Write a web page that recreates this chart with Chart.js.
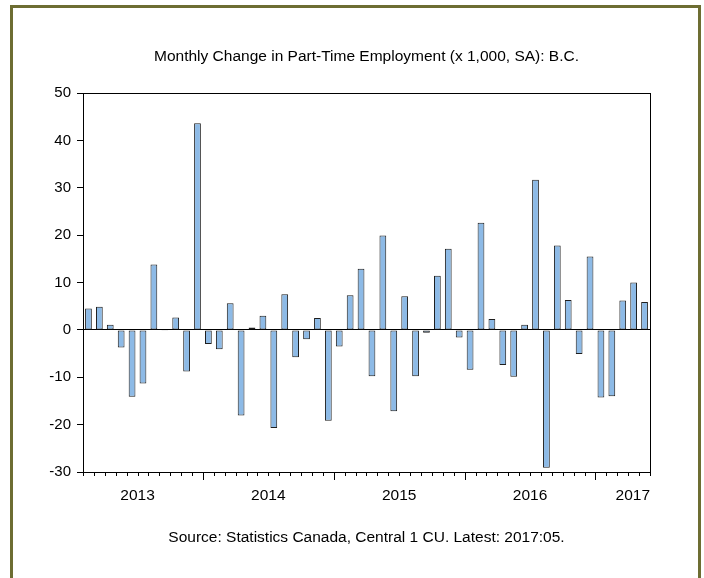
<!DOCTYPE html>
<html>
<head>
<meta charset="utf-8">
<script src="https://cdn.jsdelivr.net/npm/chart.js@4.4.1/dist/chart.umd.min.js"></script>
<style>
  html, body { margin: 0; padding: 0; background: #fff; }
  #wrap { position: relative; width: 704px; height: 578px; overflow: hidden; }
  #frame { position: absolute; left: 10px; top: 5px; width: 685px; height: 600px; border: 3px solid #6d6d32; }
  canvas { position: absolute; left: 0; top: 0; }
</style>
</head>
<body>
<div id="wrap">
  <div id="frame"></div>
  <canvas id="chart" width="704" height="578"></canvas>
</div>
<script>
const months = [
  '2013:02', '2013:03', '2013:04', '2013:05', '2013:06', '2013:07', '2013:08', '2013:09', '2013:10', '2013:11', '2013:12',
  '2014:01', '2014:02', '2014:03', '2014:04', '2014:05', '2014:06', '2014:07', '2014:08', '2014:09', '2014:10', '2014:11', '2014:12',
  '2015:01', '2015:02', '2015:03', '2015:04', '2015:05', '2015:06', '2015:07', '2015:08', '2015:09', '2015:10', '2015:11', '2015:12',
  '2016:01', '2016:02', '2016:03', '2016:04', '2016:05', '2016:06', '2016:07', '2016:08', '2016:09', '2016:10', '2016:11', '2016:12',
  '2017:01', '2017:02', '2017:03', '2017:04', '2017:05'
];
const partTimeChange = [
  4.5, 4.9, 1.1, -3.7, -14.1, -11.3, 13.8, -0.2, 2.6, -8.8, 43.6,
  -3.0, -4.1, 5.6, -18.1, 0.5, 3.0, -20.7, 7.5, -5.8, -2.0, 2.5, -19.2,
  -3.5, 7.3, 12.9, -9.8, 19.9, -17.2, 7.1, -9.8, -0.6, 11.4, 17.1, -1.6,
  -8.4, 22.6, 2.3, -7.4, -9.9, 1.1, 31.7, -29.1, 17.8, 6.3, -5.1, 15.5,
  -14.3, -14.0, 6.2, 10.0, 5.9
];
const years = ['2013', '2014', '2015', '2016', '2017'];
const yTicks = [-30, -20, -10, 0, 10, 20, 30, 40, 50];

const FONT = "'Liberation Sans', Arial, sans-serif";

// box round the plot, monthly ticks and year labels under it
const timeAxis = {
  id: 'timeAxis',
  afterDraw(chart) {
    const { ctx, chartArea: a, scales: { x } } = chart;
    const cell = x.getPixelForValue(1) - x.getPixelForValue(0);
    ctx.save();
    ctx.strokeStyle = '#000';
    ctx.lineWidth = 1;
    ctx.strokeRect(Math.round(a.left) + 0.5, Math.round(a.top) + 0.5,
      Math.round(a.right - a.left), Math.round(a.bottom - a.top));

    ctx.beginPath();
    for (let i = 0; i <= months.length; i++) {
      const px = Math.round(x.getPixelForValue(i) - cell / 2) + 0.5;
      const isYear = i < months.length && months[i].endsWith(':01');
      ctx.moveTo(px, Math.round(a.bottom));
      ctx.lineTo(px, Math.round(a.bottom) + (isYear ? 8 : 4));
    }
    ctx.stroke();

    ctx.fillStyle = '#000';
    ctx.font = '15.5px ' + FONT;
    ctx.textAlign = 'center';
    ctx.textBaseline = 'middle';
    years.forEach(yr => {
      const first = months.findIndex(m => m.startsWith(yr));
      const monthNo = parseInt(months[first].slice(5), 10);
      // centre of the whole calendar year, kept inside the plot
      let cx = x.getPixelForValue(first) + (6.5 - monthNo) * cell;
      const half = ctx.measureText(yr).width / 2;
      cx = Math.max(a.left + half, Math.min(a.right - half, cx));
      ctx.fillText(yr, cx, a.bottom + 23.5);
    });
    ctx.restore();
  }
};

new Chart(document.getElementById('chart').getContext('2d'), {
  type: 'bar',
  data: {
    labels: months,
    datasets: [{
      data: partTimeChange,
      backgroundColor: '#8dbae6',
      borderColor: '#1e1e1e',
      borderWidth: 1,
      borderSkipped: false,
      barPercentage: 0.62,
      categoryPercentage: 1
    }]
  },
  options: {
    responsive: false,
    animation: false,
    layout: { padding: { left: 0, right: 54, top: 0, bottom: 0 } },
    plugins: {
      legend: { display: false },
      tooltip: { enabled: false },
      title: {
        display: true,
        text: 'Monthly Change in Part-Time Employment (x 1,000, SA): B.C.',
        color: '#000',
        fullSize: false,
        font: { family: FONT, size: 15.5, weight: 'normal' },
        padding: { top: 47, bottom: 27.4 }
      },
      subtitle: {
        display: true,
        position: 'bottom',
        text: 'Source: Statistics Canada, Central 1 CU. Latest: 2017:05.',
        color: '#000',
        fullSize: false,
        font: { family: FONT, size: 15.5, weight: 'normal' },
        padding: { top: 56.4, bottom: 31 }
      }
    },
    scales: {
      x: {
        display: false,
        offset: true
      },
      y: {
        min: -30,
        max: 50,
        afterFit(scale) { scale.width = 83; },
        afterBuildTicks(scale) { scale.ticks = yTicks.map(v => ({ value: v })); },
        border: { display: true, color: '#000', width: 1 },
        grid: {
          drawOnChartArea: true,
          color: c => (c.tick && c.tick.value === 0 ? '#000' : 'rgba(0,0,0,0)'),
          tickColor: '#000',
          tickLength: 6
        },
        ticks: {
          color: '#000',
          padding: 6,
          font: { family: FONT, size: 15 }
        }
      }
    }
  },
  plugins: [timeAxis]
});
</script>
</body>
</html>
